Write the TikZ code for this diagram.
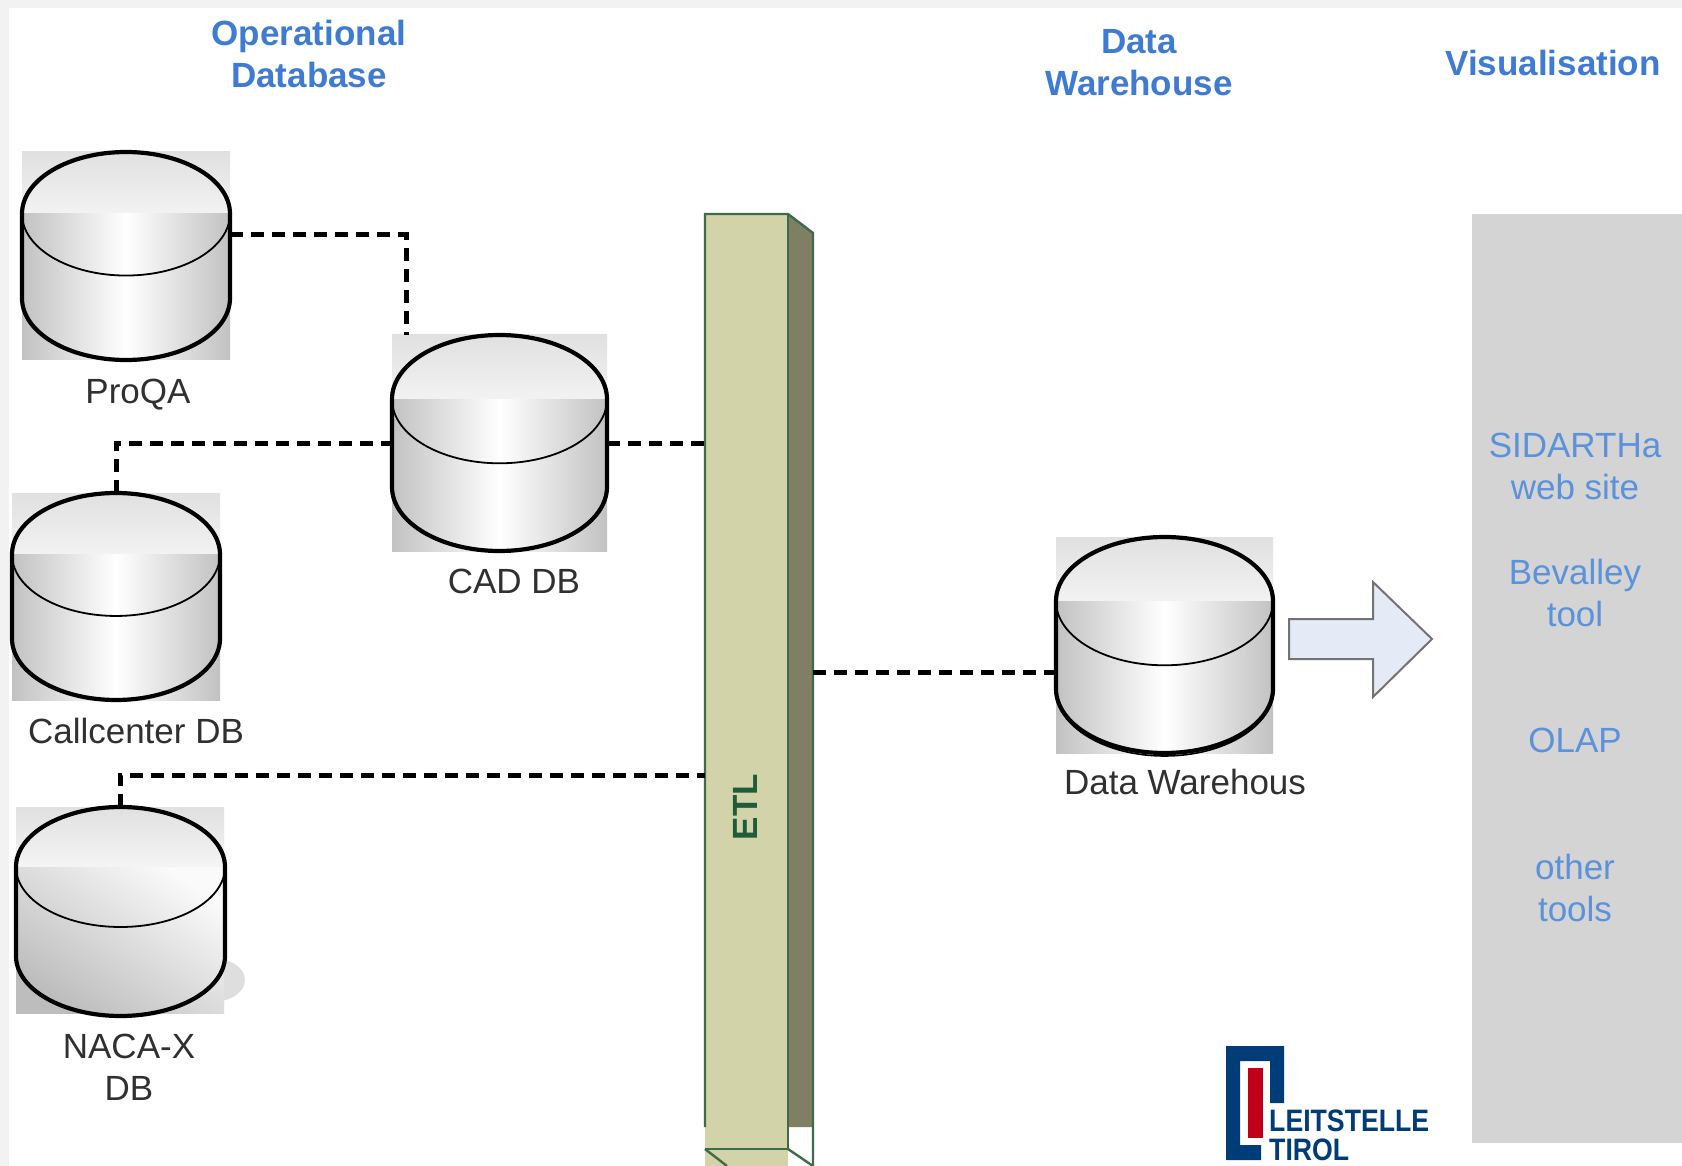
\documentclass[tikz,border=0pt]{standalone}
\usepackage{fontspec}
\setmainfont{Liberation Sans}
\usetikzlibrary{calc,shadings}
\definecolor{headblue}{HTML}{3F7BD2}
\definecolor{toolblue}{HTML}{5A92DC}
\definecolor{labgray}{HTML}{303030}
\definecolor{etlface}{HTML}{D2D3A8}
\definecolor{etlside}{HTML}{7E7F63}
\definecolor{etlline}{HTML}{3F6B4A}
\definecolor{etltext}{HTML}{1F5C3A}
\definecolor{arrowfill}{HTML}{E4EBF6}
\definecolor{logoblue}{HTML}{003C78}
\definecolor{logored}{HTML}{C00018}
\tikzset{
  x=1pt,y=-1pt,
  lbl/.style={font=\fontsize{35}{42}\selectfont,text=labgray,align=center,inner sep=0pt},
  headtext/.style={font=\fontsize{35}{42}\selectfont\bfseries,text=headblue,align=center,inner sep=0pt},
  tooltext/.style={font=\fontsize{35}{42}\selectfont,text=toolblue,align=center,inner sep=0pt},
  conn/.style={line width=5pt,draw=black,dash pattern=on 13pt off 8pt},
  etlstroke/.style={draw=etlline,line width=2.4pt},
  logotext/.style={font=\fontsize{31}{31}\selectfont\bfseries,text=logoblue,inner sep=0pt,anchor=base west},
}
% name, left, top, width, height
\newcommand{\dbcyl}[5]{%
  \pgfmathsetmacro{\ry}{0.297*#5}%
  \pgfmathsetmacro{\rx}{0.5*#4}%
  \pgfmathsetmacro{\sh}{#5-\ry}%
  \begin{scope}[shift={(#2,#3)}]
    \shade[top color=black!12,bottom color=black!5] (0,0) rectangle (#4,\ry);
    \shade[left color=black!24,right color=black!24,middle color=white] (0,\ry) rectangle (#4,#5);
    \node[inner sep=0pt,outer sep=0pt,minimum width=#4 pt,minimum height=#5 pt,anchor=north west] (#1) at (0,0) {};
    \draw[line width=4.2pt,line join=round] (0,\ry) arc[start angle=180,end angle=0,x radius=\rx pt,y radius=\ry pt]
      -- (#4,\sh) arc[start angle=0,end angle=-180,x radius=\rx pt,y radius=\ry pt] -- cycle;
    \draw[line width=1.8pt] (0,\ry) arc[start angle=180,end angle=360,x radius=\rx pt,y radius=\ry pt];
  \end{scope}%
}
\begin{document}
\begin{tikzpicture}
\useasboundingbox (0,0) rectangle (1682,1166);
\fill[white] (0,0) rectangle (1682,1166);
\fill[black!5] (0,0) rectangle (1682,8);
\fill[black!5] (0,0) rectangle (9,1166);

% visualisation panel
\fill[black!17] (1472,214) rectangle (1682,1143);

% ETL bar
\fill[etlside] (788,214) -- (813,233) -- (813,1127) -- (788,1127) -- cycle;
\fill[etlface] (705,214) rectangle (788,1166);
\draw[etlstroke] (705,1127) -- (705,214) -- (788,214) -- (813,233) -- (813,1166);
\draw[etlstroke] (788,214) -- (788,1149);
\draw[etlstroke] (705,1149) -- (788,1149);
\draw[etlstroke] (705,1149) -- (727,1166);
\draw[etlstroke] (788,1149) -- (813,1166);
\node[font=\fontsize{35}{40}\selectfont\bfseries,text=etltext,rotate=90,inner sep=0pt] (etl) at (745,807) {ETL};
\coordinate (etlw) at (705,500);
\coordinate (etle) at (813,672);

% shadow of NACA-X
\fill[black!13] (212,980) ellipse[x radius=33pt,y radius=22pt];

% cylinders
\dbcyl{proqa}{22}{152}{208}{208}
\dbcyl{cad}{392}{335}{215}{216}
\dbcyl{call}{12}{493}{208}{207}
\dbcyl{dw}{1056}{537}{217}{216}

% NACA-X cylinder, with its own shading
\begin{scope}[shift={(16,807)}]
  \shade[top color=black!12,bottom color=black!4] (0,0) rectangle (208,60);
  \shade[top color=black!2,bottom color=black!26,shading angle=-35] (0,60) rectangle (208,206);
  \node[inner sep=0pt,outer sep=0pt,minimum width=208pt,minimum height=206pt,anchor=north west] (naca) at (0,0) {};
  \draw[line width=4.2pt,line join=round] (0,60) arc[start angle=180,end angle=0,x radius=104.5pt,y radius=60pt]
    -- (209,149) arc[start angle=0,end angle=-180,x radius=104.5pt,y radius=60pt] -- cycle;
  \draw[line width=1.8pt] (0,60) arc[start angle=180,end angle=360,x radius=104.5pt,y radius=60pt];
\end{scope}

% second rim on the data warehouse cylinder
\draw[line width=1.6pt] (1273,690) arc[start angle=0,end angle=-180,x radius=108.5pt,y radius=66pt];

% connectors
\coordinate (j1) at (406,235);
\coordinate (j2) at (116,443);
\coordinate (j3) at (120,775);
\draw[conn] (proqa.east |- j1) -- (j1) -- (j1 |- cad.north);
\draw[conn] (call.north -| j2) -- (j2) -- (cad.west |- j2);
\draw[conn] (cad.east |- j2) -- (etlw |- j2);
\draw[conn] (naca.north -| j3) -- (j3) -- (etlw |- j3);
\draw[conn] (etle) -- (dw.west |- etle);

% block arrow
\draw[draw=black!55,line width=2pt,fill=arrowfill,line join=miter]
  (1289,619) -- (1373,619) -- (1373,582) -- (1432,639) -- (1373,697) -- (1373,659) -- (1289,659) -- cycle;

% labels
\node[lbl] (lproqa) at (138,395) {ProQA};
\node[lbl] (lcad) at (514,581) {CAD DB};
\node[lbl] (lcall) at (136,731) {Callcenter DB};
\node[lbl] (lnaca) at (129,1067) {NACA-X\\DB};
\node[lbl] (ldw) at (1185,782) {Data Warehous};

% headings
\node[headtext] (hop) at (309,54) {Operational\\Database};
\node[headtext] (hdw) at (1139,63) {Data\\Warehouse};
\node[headtext] (hvis) at (1553,63) {Visualisation};

% tools
\node[tooltext] (t1) at (1575,466) {SIDARTHa\\web site};
\node[tooltext] (t2) at (1575,593) {Bevalley\\tool};
\node[tooltext] (t3) at (1575,740) {OLAP};
\node[tooltext] (t4) at (1575,888) {other\\tools};

% logo
\fill[logoblue] (1226,1046) -- (1284,1046) -- (1284,1103) -- (1270,1103) -- (1270,1061) -- (1240,1061)
  -- (1240,1145) -- (1261,1145) -- (1261,1160) -- (1226,1160) -- cycle;
\fill[logored] (1248,1068) rectangle (1263,1138);
\node[logotext] (logoa) at (1269,1131) {\scalebox{.86}[1]{LEITSTELLE}};
\node[logotext] (logob) at (1269,1160) {\scalebox{.86}[1]{TIROL}};
\end{tikzpicture}
\end{document}
